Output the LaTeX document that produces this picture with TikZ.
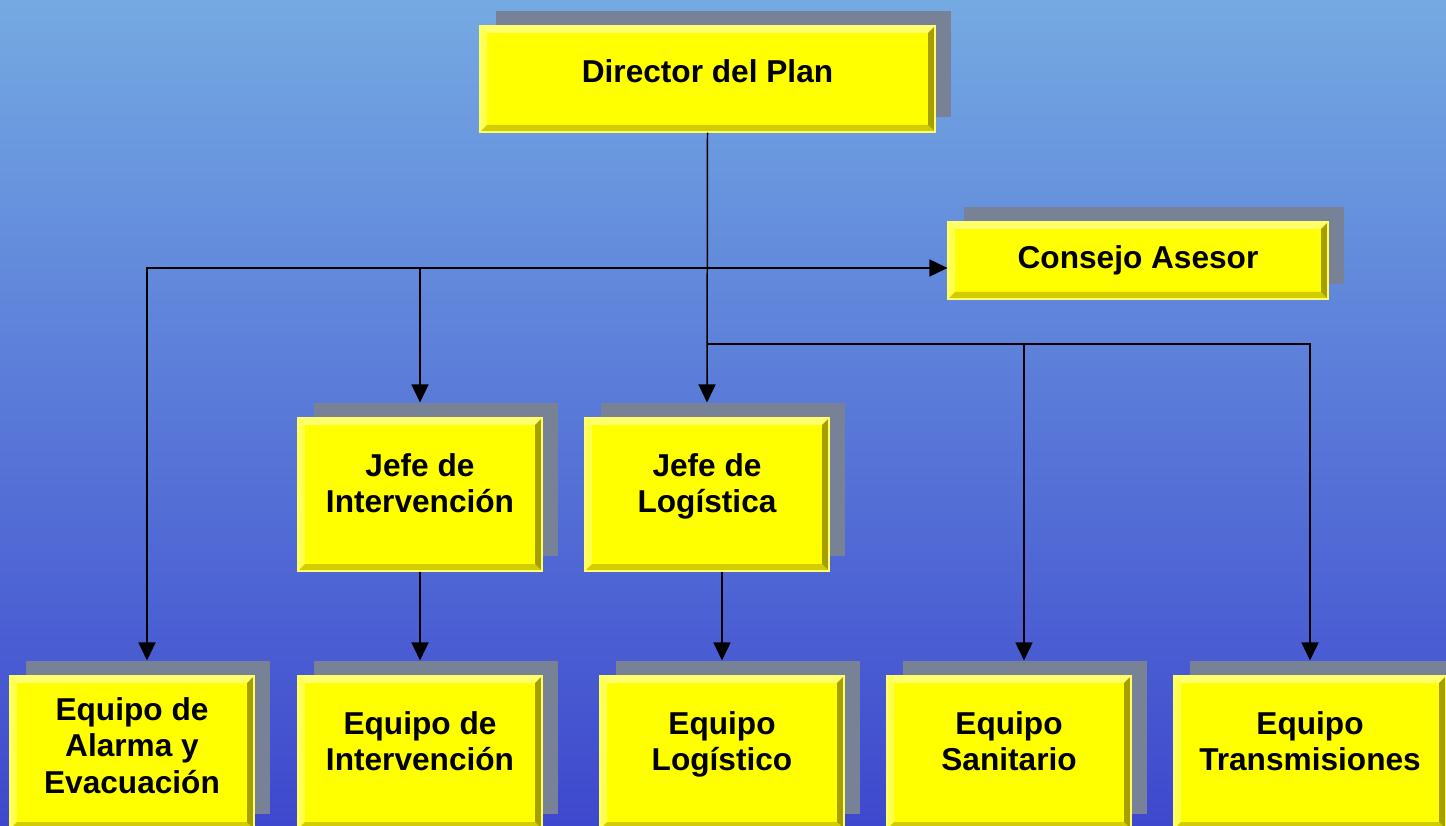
\documentclass[tikz,border=0pt]{standalone}
\usepackage{fontspec}
\setmainfont{Liberation Sans}
\usetikzlibrary{positioning,shadows,arrows.meta}

\definecolor{fondoarriba}{RGB}{116,170,226}
\definecolor{fondoabajo}{RGB}{62,72,206}
\definecolor{sombra}{RGB}{120,130,150}
\definecolor{amarillo}{RGB}{255,255,0}
\definecolor{biselclaro}{RGB}{255,255,110}
\definecolor{biselluz}{RGB}{255,255,80}
\definecolor{biseloscuro}{RGB}{210,205,0}
\definecolor{biselmedio}{RGB}{165,160,0}
\newcommand{\anchobisel}{1.4mm}

\tikzset{
  cargo/.style={fill=amarillo, draw=biselclaro, line width=0.6pt,
    minimum width=4.88cm, minimum height=3.06cm, inner sep=0pt,
    align=center, font=\bfseries\fontsize{18}{21}\selectfont, text depth=13pt,
    general shadow={fill=sombra, shadow xshift=0.32cm, shadow yshift=0.3cm},
    path picture={
      \coordinate (bso) at (path picture bounding box.south west);
      \coordinate (bne) at (path picture bounding box.north east);
      \coordinate (bno) at (bso|-bne);
      \coordinate (bse) at (bne|-bso);
      \fill[biselclaro] (bno) -- (bne) -- ([shift={(-\anchobisel,-\anchobisel)}]bne) -- ([shift={(\anchobisel,-\anchobisel)}]bno) -- cycle;
      \fill[biselluz] (bno) -- (bso) -- ([shift={(\anchobisel,\anchobisel)}]bso) -- ([shift={(\anchobisel,-\anchobisel)}]bno) -- cycle;
      \fill[biseloscuro] (bso) -- (bse) -- ([shift={(-\anchobisel,\anchobisel)}]bse) -- ([shift={(\anchobisel,\anchobisel)}]bso) -- cycle;
      \fill[biselmedio] (bne) -- (bse) -- ([shift={(-\anchobisel,\anchobisel)}]bse) -- ([shift={(-\anchobisel,-\anchobisel)}]bne) -- cycle;
    }},
  flecha/.style={line width=0.85pt, -{Triangle[length=0.36cm,width=0.34cm]}}
}

\begin{document}
\begin{tikzpicture}
\useasboundingbox (0,0) rectangle (28.92,16.5);
\shade[top color=fondoarriba, bottom color=fondoabajo] (0,0) rectangle (28.92,16.5);

\node[cargo, minimum width=9.1cm, minimum height=2.12cm, text depth=9pt] (dir) at (14.15,14.92) {Director del Plan};
\node[cargo, minimum width=7.6cm, minimum height=1.54cm, text depth=4pt] (cons) at (22.76,11.29) {Consejo Asesor};

\node[cargo] (jint) at (8.40,6.61) {Jefe de\\Intervención};
\node[cargo] (jlog) at (14.14,6.61) {Jefe de\\Logística};

\node[cargo, text depth=8pt] (ealarma) at (2.64,1.45) {Equipo de\\Alarma y\\Evacuación};
\node[cargo] (eint) at (8.40,1.45) {Equipo de\\Intervención};
\node[cargo] (elog) at (14.44,1.45) {Equipo\\Logístico};
\node[cargo] (esan) at (20.18,1.45) {Equipo\\Sanitario};
\node[cargo, minimum width=5.44cm] (etrans) at (26.20,1.45) {Equipo\\Transmisiones};

\coordinate (nudo) at (14.14,11.14);
\coordinate (nudoB) at (14.14,9.62);

\draw[flecha] (dir.south) -- ([yshift=3mm]jlog.north);
\draw[flecha] (nudo) -- (nudo -| cons.west);
\draw[flecha] (nudo) -| ([xshift=3mm,yshift=3mm]ealarma.north);
\draw[flecha] (jint.north |- nudo) -- ([yshift=3mm]jint.north);
\draw[flecha] (nudoB) -| ([xshift=3mm,yshift=3mm]esan.north);
\draw[flecha] (nudoB) -| ([yshift=3mm]etrans.north);
\draw[flecha] (jint.south) -- ([yshift=3mm]eint.north);
\draw[flecha] (jlog.south -| elog.north) -- ([yshift=3mm]elog.north);
\end{tikzpicture}
\end{document}
